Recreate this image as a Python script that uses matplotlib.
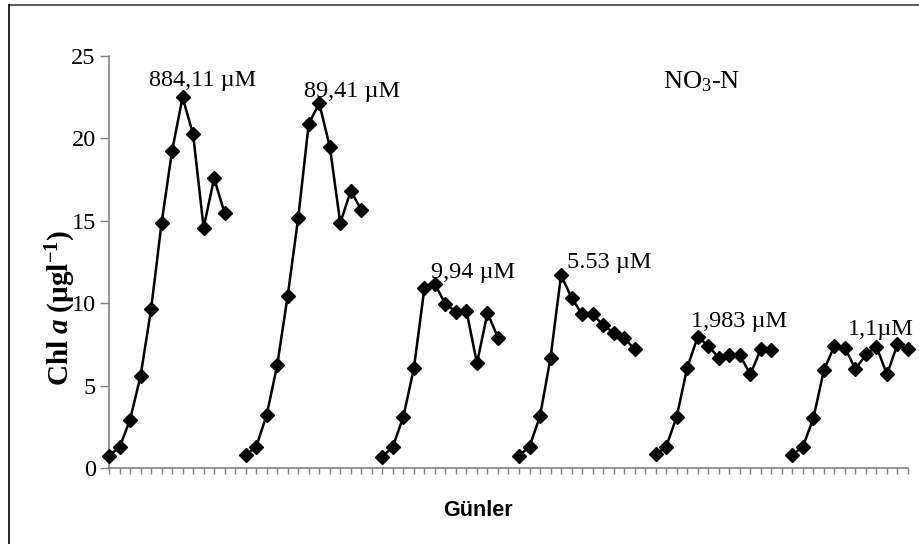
import matplotlib
matplotlib.use("Agg")
import matplotlib.pyplot as plt
from matplotlib.lines import Line2D
import numpy as np

plt.rcParams['font.family'] = ['Liberation Serif', 'DejaVu Serif']
plt.rcParams['mathtext.fontset'] = 'custom'
plt.rcParams['mathtext.rm'] = 'Liberation Serif'
plt.rcParams['mathtext.it'] = 'Liberation Serif:italic'
plt.rcParams['mathtext.bf'] = 'Liberation Serif:bold'
plt.rcParams['mathtext.bfit'] = 'Liberation Serif:italic:bold'

# ---- data ----
concentrations = ["884,11 µM", "89,41 µM", "9,94 µM", "5.53 µM", "1,983 µM", "1,1µM"]
s1 = [0.77, 1.27, 2.93, 5.59, 9.63, 14.86, 19.24, 22.48, 20.23, 14.58, 17.57, 15.45]
s2 = [0.81, 1.31, 3.23, 6.26, 10.46, 15.19, 20.88, 22.11, 19.49, 14.86, 16.82, 15.65]
s3 = [0.71, 1.31, 3.13, 6.06, 10.90, 11.15, 9.96, 9.49, 9.55, 6.36, 9.42, 7.91]
s4 = [0.76, 1.31, 3.17, 6.70, 11.71, 10.33, 9.33, 9.33, 8.68, 8.22, 7.91, 7.21]
s5 = [0.85, 1.31, 3.13, 6.10, 7.97, 7.41, 6.70, 6.86, 6.86, 5.69, 7.21, 7.17]
s6 = [0.81, 1.31, 3.03, 5.95, 7.41, 7.31, 6.00, 6.90, 7.37, 5.69, 7.51, 7.21]
series = [s1, s2, s3, s4, s5, s6]
y_ticks = [0, 5, 10, 15, 20, 25]

# ---- layout ----
fig = plt.figure(figsize=(9.2, 5.44), dpi=100)
ax = fig.add_axes([109/920, 1-468.3/544, (908-109)/920, (468.3-55.7)/544])

gap = len(s1) + 1
n_total = gap * len(series) - 1
for k, s in enumerate(series):
    x = np.arange(len(s)) + k * gap
    ax.plot(x, s, color='black', lw=1.8, marker='D', ms=7.6,
            markerfacecolor='black', markeredgecolor='black', clip_on=False, zorder=3)

ax.set_xlim(0, n_total - 1)
ax.set_ylim(0, 25)
ax.set_yticks(y_ticks)
ax.set_xticks(np.arange(n_total))
ax.set_xticklabels([])
ax.tick_params(axis='x', direction='out', length=4, width=1, color='#808080')
ax.tick_params(axis='y', direction='out', length=6.5, width=1, color='#808080',
               labelsize=17.5, pad=3)
for sp in ['top', 'right']:
    ax.spines[sp].set_visible(False)
for sp in ['left', 'bottom']:
    ax.spines[sp].set_color('#808080')
    ax.spines[sp].set_linewidth(1.2)

# annotations (x index, baseline y value)
ann_pos = [(8.94, 23.16), (23.12, 22.49), (34.63, 11.53), (47.57, 12.13), (59.94, 8.56), (73.45, 8.07)]
for txt, (xa, ya) in zip(concentrations, ann_pos):
    ax.text(xa, ya, txt, fontsize=17.5, ha='center', va='baseline', zorder=2)

ax.text(56.42, 23.03, 'NO$_3$-N', fontsize=19, ha='center', va='baseline')

ax.text(-0.0605, 0.3885, r'$\mathbf{Chl}\ \mathbfit{a}\ \mathbf{(µgl^{-1})}$',
        transform=ax.transAxes, rotation=90, ha='center', va='center', fontsize=21)

fig.text(478/920, 1-511/544, 'Günler', family='Liberation Sans', weight='bold',
         fontsize=15.5, ha='center', va='center')

# outer frame (top and left edges)
fig.add_artist(Line2D([9/920, 1], [1-5/544, 1-5/544], color='#404040', lw=1.2, transform=fig.transFigure))
fig.add_artist(Line2D([9/920, 9/920], [0, 1-5/544], color='black', lw=1.2, transform=fig.transFigure))

fig.savefig('out.png', dpi=100)
